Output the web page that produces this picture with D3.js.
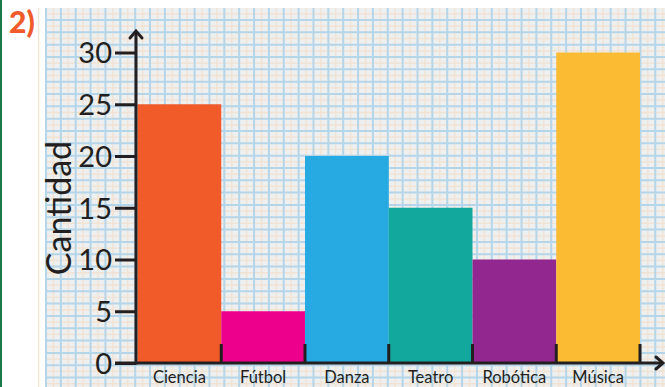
<!DOCTYPE html>
<html><head><meta charset="utf-8">
<script src="https://cdn.jsdelivr.net/npm/d3@7"></script>
<style>html,body{margin:0;padding:0;background:#fff;overflow:hidden}</style>
</head><body>
<svg id="c" width="665" height="387"></svg>
<script>
const categories = ["Ciencia","Fútbol","Danza","Teatro","Robótica","Música"];
const values = [25, 5, 20, 15, 10, 30];
const colors = ["#f15a29","#ec008c","#27a9e1","#13a89e","#92278f","#fbbb32"];
const yTicks = [0,5,10,15,20,25,30];
const yLabel = "Cantidad";
const panelLabel = "2)";

const svg = d3.select("#c");
const W = 665, H = 387;
const ink = "#231f20";
const font = "Lato, 'Noto Sans', sans-serif";

// left green rule
svg.append("rect").attr("x",0).attr("y",0).attr("width",2).attr("height",H).attr("fill","#17784a");

// grid paper
const gx0 = 45, gy0 = 8;
svg.append("rect").attr("x",gx0).attr("y",gy0).attr("width",W-gx0).attr("height",H-gy0).attr("fill","#eeefef");
const g = svg.append("g");
const dx = 14.86, dy = 12.33;
const vx = d3.range(46 - dx, W + dx, dx);
const hy = d3.range(20 - dy, H + dy, dy);
// faint orange half lines
g.selectAll("line.ov").data(vx).join("line")
  .attr("x1",d=>d+dx/2).attr("x2",d=>d+dx/2).attr("y1",gy0).attr("y2",H)
  .attr("stroke","#f2e2d2").attr("stroke-width",1.3);
g.selectAll("line.oh").data(hy).join("line")
  .attr("y1",d=>d+dy/2).attr("y2",d=>d+dy/2).attr("x1",gx0).attr("x2",W)
  .attr("stroke","#f2e2d2").attr("stroke-width",1.3);
g.selectAll("line.bv").data(vx.filter(d=>d>=gx0)).join("line")
  .attr("x1",d=>d).attr("x2",d=>d).attr("y1",gy0).attr("y2",H)
  .attr("stroke","#b5d5e9").attr("stroke-width",2);
g.selectAll("line.bh").data(hy.filter(d=>d>=gy0)).join("line")
  .attr("y1",d=>d).attr("y2",d=>d).attr("x1",gx0).attr("x2",W)
  .attr("stroke","#b5d5e9").attr("stroke-width",2);

// scales
const y = d3.scaleLinear().domain([0,30]).range([363,52.5]);
const x = d3.scaleBand().domain(categories).range([137.5,640]).paddingInner(0).paddingOuter(0);

// bars
svg.append("g").selectAll("rect").data(categories).join("rect")
  .attr("x",d=>x(d)).attr("width",x.bandwidth())
  .attr("y",(d,i)=>y(values[i])).attr("height",(d,i)=>y(0)-y(values[i]))
  .attr("fill",(d,i)=>colors[i]);

// y axis
const yAxis = d3.axisLeft(y).tickValues(yTicks).tickSize(21).tickPadding(3).tickFormat(d3.format("d"));
const ya = svg.append("g").attr("transform","translate(136,0)").call(yAxis);
ya.select(".domain").remove();
ya.selectAll(".tick line").attr("stroke",ink).attr("stroke-width",3);
ya.selectAll(".tick text").attr("fill",ink).attr("font-family",font).attr("font-size",29).attr("dy","0.36em");
svg.append("line").attr("x1",136).attr("x2",136).attr("y1",y(0)+1.5).attr("y2",31)
  .attr("stroke",ink).attr("stroke-width",3);
svg.append("path").attr("d","M130,38 L136,31 L142,38").attr("fill","none").attr("stroke",ink).attr("stroke-width",3).attr("stroke-linecap","round");

// x axis
svg.append("line").attr("x1",115).attr("x2",663).attr("y1",y(0)).attr("y2",y(0))
  .attr("stroke",ink).attr("stroke-width",3);
svg.append("path").attr("d",`M656,${y(0)-6} L663,${y(0)} L656,${y(0)+6}`).attr("fill","none").attr("stroke",ink).attr("stroke-width",3).attr("stroke-linecap","round");
svg.append("g").selectAll("line").data(categories).join("line")
  .attr("x1",d=>x(d)+x.bandwidth()).attr("x2",d=>x(d)+x.bandwidth())
  .attr("y1",y(0)-19).attr("y2",y(0))
  .attr("stroke",ink).attr("stroke-width",3);
svg.append("g").selectAll("text").data(categories).join("text")
  .attr("x",d=>x(d)+x.bandwidth()/2).attr("y",383)
  .attr("text-anchor","middle").attr("font-family",font).attr("font-size",16.5).attr("fill",ink)
  .text(d=>d);

// y label
svg.append("text").attr("transform","translate(71,208) rotate(-90)")
  .attr("text-anchor","middle").attr("font-family",font).attr("font-size",34).attr("fill",ink)
  .text(yLabel);

// panel label
svg.append("text").attr("x",9).attr("y",33).attr("font-family",font).attr("font-weight","900")
  .attr("font-size",30).attr("fill","#f15a29").text(panelLabel);
</script>
</body></html>
